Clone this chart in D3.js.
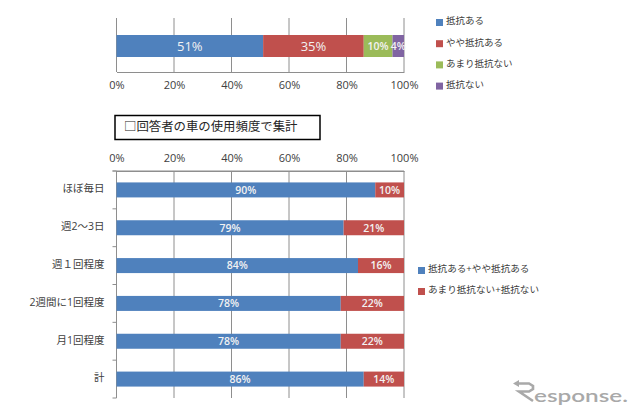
<!DOCTYPE html>
<html>
<head>
  <meta charset="UTF-8">
  <style>
    html, body { margin: 0; padding: 0; background: white; }
    svg { display: block; }
    text { font-family: "Open Sans", "Noto Sans CJK JP", sans-serif; }
    .domain, .tick line { stroke: #8e8e8e; }
  </style>
</head>
<body>
<svg></svg>
<script src="https://d3js.org/d3.v7.min.js"></script>
<script>

let width = 640, height = 414;

// top chart
let topSeries = ["抵抗ある", "やや抵抗ある", "あまり抵抗ない", "抵抗ない"];
let topValues = [51, 35, 10, 4];
let topColors = ["#4f81bd", "#c0504d", "#9bbb59", "#8064a2"];

// bottom chart
let categories = ["ほぼ毎日", "週2～3日", "週１回程度", "2週間に1回程度", "月1回程度", "計"];
let bottomSeries = ["抵抗ある+やや抵抗ある", "あまり抵抗ない+抵抗ない"];
let yesValues = [90, 79, 84, 78, 78, 86];
let noValues = [10, 21, 16, 22, 22, 14];
let bottomColors = ["#4f81bd", "#c0504d"];

let ticks = [0, 20, 40, 60, 80, 100];
let title = "□回答者の車の使用頻度で集計";

let svg = d3.select("svg")
    .attr("width", width)
    .attr("height", height)
    .attr("viewBox", "0 0 " + width + " " + height);

let x = d3.scaleLinear().domain([0, 100]).range([116.5, 404]);

function gridlines(y0, y1) {
    svg.append("g").selectAll("line")
        .data(ticks)
        .enter().append("line")
        .attr("x1", d => x(d)).attr("x2", d => x(d))
        .attr("y1", y0).attr("y2", y1)
        .attr("stroke", "#8e8e8e");
}

function xAxis(axis, y) {
    let g = svg.append("g")
        .attr("transform", "translate(0," + y + ")")
        .call(axis.tickValues(ticks).tickFormat(d => d + "%").tickSize(0).tickPadding(9));
    g.selectAll("text").attr("font-size", 11).attr("fill", "#404040")
        .style("font-family", '"Open Sans", sans-serif');
}

// top chart
gridlines(18, 72);
xAxis(d3.axisBottom(x), 72);

let stacked = d3.cumsum(topValues);
let topBars = svg.append("g").selectAll("g")
    .data(topValues)
    .enter().append("g");

topBars.append("rect")
    .attr("x", (d, i) => x(stacked[i] - d))
    .attr("width", d => x(d) - x(0))
    .attr("y", 35)
    .attr("height", 22)
    .attr("fill", (d, i) => topColors[i]);

topBars.append("text")
    .attr("x", (d, i) => x(stacked[i] - d / 2))
    .attr("y", 46)
    .attr("dy", "0.36em")
    .attr("text-anchor", "middle")
    .attr("fill", "#f2f2f2")
    .attr("font-size", (d, i) => i < 2 ? 13 : 10.5)
    .attr("font-weight", (d, i) => i < 2 ? 400 : 600)
    .text(d => d + "%");

// top legend
let topLegend = svg.append("g").selectAll("g")
    .data(topSeries)
    .enter().append("g")
    .attr("transform", (d, i) => "translate(436," + (18 + i * 21.2) + ")");

topLegend.append("rect")
    .attr("width", 7).attr("height", 7)
    .attr("y", 1)
    .attr("fill", (d, i) => topColors[i]);

topLegend.append("text")
    .attr("x", 10)
    .attr("y", 3)
    .attr("dy", "0.36em")
    .attr("font-size", 9.5)
    .attr("fill", "#404040")
    .text(d => d);

// title box
svg.append("rect")
    .attr("x", 115).attr("y", 115.5)
    .attr("width", 205).attr("height", 24)
    .attr("fill", "white")
    .attr("stroke", "black")
    .attr("stroke-width", 1.5);

svg.append("text")
    .attr("x", 124)
    .attr("y", 127)
    .attr("dy", "0.36em")
    .attr("font-size", 12.4)
    .attr("fill", "#262626")
    .text(title);

// bottom chart
let y = d3.scaleBand().domain(categories).range([171, 398]);

gridlines(171, 398);
xAxis(d3.axisTop(x), 171);

svg.append("line")
    .attr("x1", x(0) - 4).attr("x2", x(100))
    .attr("y1", 171).attr("y2", 171)
    .attr("stroke", "#8e8e8e");

// category ticks
svg.append("g").selectAll("line")
    .data(d3.range(categories.length + 1))
    .enter().append("line")
    .attr("x1", x(0) - 4).attr("x2", x(0))
    .attr("y1", i => 171 + i * y.step())
    .attr("y2", i => 171 + i * y.step())
    .attr("stroke", "#8e8e8e");

let rows = svg.append("g").selectAll("g")
    .data(categories)
    .enter().append("g")
    .attr("transform", d => "translate(0," + (y(d) + y.bandwidth() / 2) + ")");

rows.append("rect")
    .attr("x", x(0))
    .attr("y", -7.5)
    .attr("height", 15)
    .attr("width", (d, i) => x(yesValues[i]) - x(0))
    .attr("fill", bottomColors[0]);

rows.append("rect")
    .attr("x", (d, i) => x(yesValues[i]))
    .attr("y", -7.5)
    .attr("height", 15)
    .attr("width", (d, i) => x(noValues[i]) - x(0))
    .attr("fill", bottomColors[1]);

rows.append("text")
    .attr("x", (d, i) => x(yesValues[i] / 2))
    .attr("dy", "0.36em")
    .attr("text-anchor", "middle")
    .attr("fill", "#f2f2f2")
    .attr("font-size", 10.5)
    .attr("font-weight", 600)
    .text((d, i) => yesValues[i] + "%");

rows.append("text")
    .attr("x", (d, i) => x(yesValues[i] + noValues[i] / 2))
    .attr("dy", "0.36em")
    .attr("text-anchor", "middle")
    .attr("fill", "#f2f2f2")
    .attr("font-size", 10.5)
    .attr("font-weight", 600)
    .text((d, i) => noValues[i] + "%");

rows.append("text")
    .attr("x", 104.5)
    .attr("y", -1.5)
    .attr("dy", "0.36em")
    .attr("text-anchor", "end")
    .attr("font-size", 10.5)
    .attr("fill", "#404040")
    .text(d => d);

// bottom legend
let bottomLegend = svg.append("g").selectAll("g")
    .data(bottomSeries)
    .enter().append("g")
    .attr("transform", (d, i) => "translate(418," + (266 + i * 21) + ")");

bottomLegend.append("rect")
    .attr("width", 7).attr("height", 7)
    .attr("y", 1)
    .attr("fill", (d, i) => bottomColors[i]);

bottomLegend.append("text")
    .attr("x", 10)
    .attr("y", 3)
    .attr("dy", "0.36em")
    .attr("font-size", 9.6)
    .attr("fill", "#404040")
    .text(d => d);

// watermark: arrow shaped R + rest of the word
let logo = svg.append("g").attr("fill", "#a9a9a9");

logo.append("path")
    .attr("d", d3.line()([[517, 383.5], [529, 383.5], [533, 386], [533, 389], [529, 391.5], [519, 391.5], [533, 401]]))
    .attr("fill", "none")
    .attr("stroke", "#a9a9a9")
    .attr("stroke-width", 2.6);

logo.append("path")
    .attr("d", d3.line()([[513, 383.5], [519, 380], [519, 387]]) + "Z");

logo.append("text")
    .attr("x", 534)
    .attr("y", 402)
    .attr("font-size", 17)
    .attr("font-weight", 600)
    .attr("textLength", 94)
    .attr("lengthAdjust", "spacingAndGlyphs")
    .style("font-family", 'Lato, sans-serif')
    .text("esponse.");

</script>
</body>
</html>
